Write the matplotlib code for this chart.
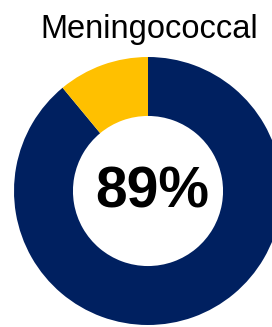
import matplotlib
matplotlib.use("Agg")
import matplotlib.pyplot as plt

title = "Meningococcal"
labels = ["Vaccinated", "Not vaccinated"]
values = [89, 11]
colors = ["#002060", "#FFC000"]
center_label = "89%"

W, H = 272, 327
fig = plt.figure(figsize=(W / 100, H / 100), dpi=100)
fig.patch.set_facecolor("white")

# donut: center (148,191) px, radius 134 px
cx, cy, r = 148, 191, 134
ax = fig.add_axes([(cx - r) / W, (H - cy - r) / H, 2 * r / W, 2 * r / H])
ax.pie(values, colors=colors, startangle=90, counterclock=False, radius=1,
       wedgeprops=dict(width=0.44, edgecolor="none", linewidth=0))
ax.set_xlim(-1, 1)
ax.set_ylim(-1, 1)
ax.set_aspect("equal")
ax.axis("off")

fig.text(152 / W, 1 - 192 / H, center_label, ha="center", va="center",
         fontsize=41, fontweight="bold", family="Liberation Sans", color="black")
fig.text(149 / W, 1 - 38 / H, title, ha="center", va="baseline",
         fontsize=23.5, family="Liberation Sans", color="black")

fig.savefig("out.png", dpi=100, facecolor="white")
